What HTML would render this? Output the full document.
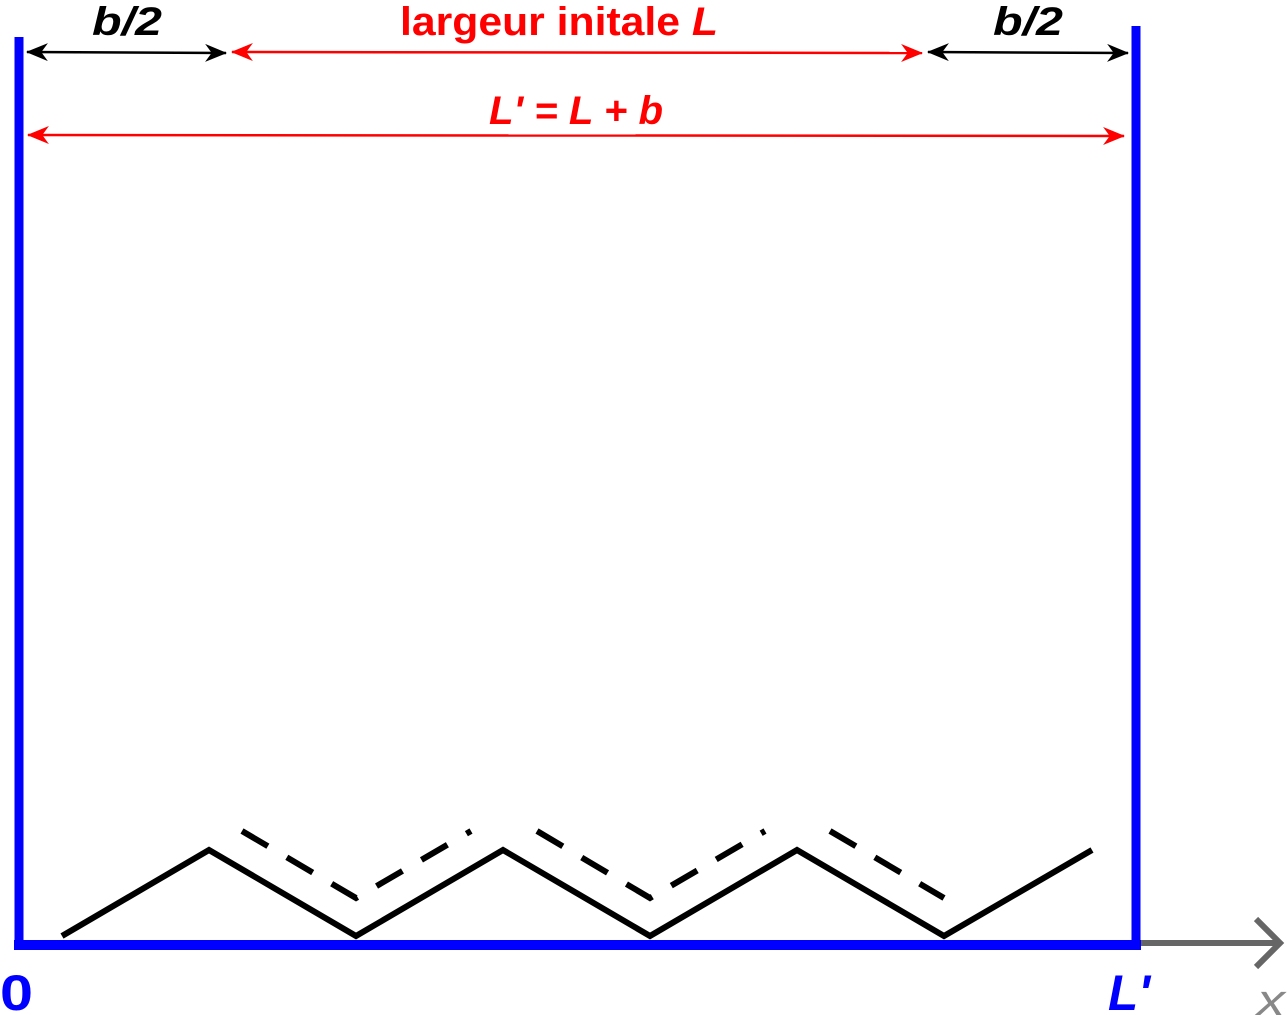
<!DOCTYPE html>
<html><head><meta charset="utf-8"><style>
html,body{margin:0;padding:0;background:#fff;}
svg{display:block;font-family:"Liberation Sans",sans-serif;}
</style></head><body>
<svg width="1287" height="1015" viewBox="0 0 1287 1015">
<defs>
<marker id="ab" viewBox="0 0 10 10" refX="9.5" refY="5" markerWidth="22" markerHeight="18" markerUnits="userSpaceOnUse" orient="auto-start-reverse" preserveAspectRatio="none"><path d="M0,0 L10,5 L0,10 L3,5 z" fill="#000"/></marker>
<marker id="ar" viewBox="0 0 10 10" refX="9.5" refY="5" markerWidth="22" markerHeight="18" markerUnits="userSpaceOnUse" orient="auto-start-reverse" preserveAspectRatio="none"><path d="M0,0 L10,5 L0,10 L3,5 z" fill="#f00"/></marker>
</defs>
<line x1="19" y1="37" x2="19" y2="950" stroke="#0000ff" stroke-width="9"/>
<line x1="1136" y1="26" x2="1136" y2="950" stroke="#0000ff" stroke-width="9"/>
<line x1="14" y1="945" x2="1141" y2="945" stroke="#0000ff" stroke-width="10"/>
<g stroke="#666" stroke-width="6" fill="none">
<line x1="1141" y1="943" x2="1280" y2="943"/>
<polyline points="1256,919 1280,943 1256,967"/>
</g>
<polyline points="62,936 209,850 356,936 503,850 650,936 797,850 944,936 1092,850" fill="none" stroke="#000" stroke-width="6"/>
<g fill="none" stroke="#000" stroke-width="6" stroke-dasharray="30,22">
<polyline points="242,831 356,898 471,831"/>
<polyline points="537,831 650,898 765,831"/>
<polyline points="830,831 944,898"/>
</g>
<line x1="27" y1="52" x2="226" y2="53" stroke="#000" stroke-width="2.5" marker-start="url(#ab)" marker-end="url(#ab)"/>
<line x1="232" y1="52" x2="922" y2="53" stroke="#f00" stroke-width="2.5" marker-start="url(#ar)" marker-end="url(#ar)"/>
<line x1="928" y1="52" x2="1128" y2="53" stroke="#000" stroke-width="2.5" marker-start="url(#ab)" marker-end="url(#ab)"/>
<line x1="28" y1="135" x2="1124" y2="136" stroke="#f00" stroke-width="2.5" marker-start="url(#ar)" marker-end="url(#ar)"/>
<text x="92" y="35" font-size="40" font-weight="bold" font-style="italic" textLength="70" lengthAdjust="spacingAndGlyphs">b/2</text>
<text x="400" y="35" font-size="40" font-weight="bold" fill="#f00" textLength="318" lengthAdjust="spacingAndGlyphs">largeur initale <tspan font-style="italic">L</tspan></text>
<text x="993" y="35" font-size="40" font-weight="bold" font-style="italic" textLength="70" lengthAdjust="spacingAndGlyphs">b/2</text>
<text x="489" y="124" font-size="40" font-weight="bold" font-style="italic" fill="#f00" textLength="174" lengthAdjust="spacingAndGlyphs">L' = L + b</text>
<text x="0" y="1010" font-size="50" font-weight="bold" fill="#0000ff" textLength="33" lengthAdjust="spacingAndGlyphs">0</text>
<text x="1108" y="1010" font-size="50" font-weight="bold" font-style="italic" fill="#0000ff" textLength="42" lengthAdjust="spacingAndGlyphs">L'</text>
<text x="1257" y="1015" font-size="44" font-style="italic" fill="#888" textLength="28" lengthAdjust="spacingAndGlyphs">x</text>
</svg>
</body></html>
